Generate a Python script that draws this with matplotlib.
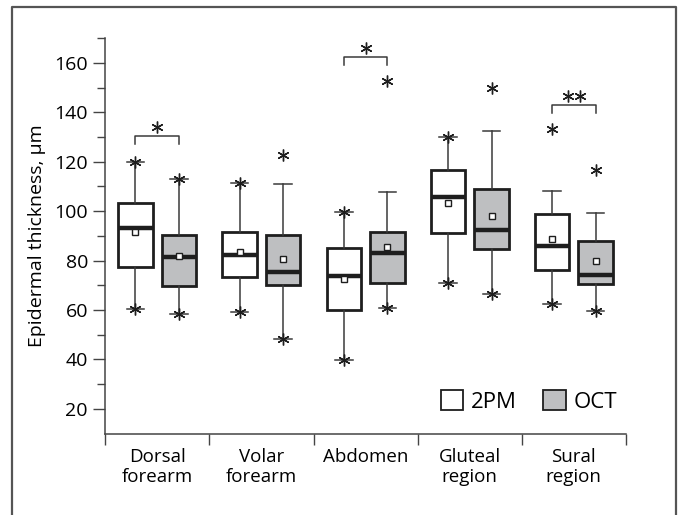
import matplotlib
matplotlib.use("Agg")
import matplotlib.pyplot as plt
from matplotlib.lines import Line2D
from matplotlib.patches import Patch

plt.rcParams.update({"font.family": ["Open Sans", "DejaVu Sans"], "font.size": 14})

GROUPS = ["Dorsal\nforearm", "Volar\nforearm", "Abdomen", "Gluteal\nregion", "Sural\nregion"]

# 2PM
PM_LO = [60.6, 59.3, 39.7, 71.1, 62.4]
PM_Q1 = [77.5, 73.4, 60.2, 91.2, 76.0]
PM_MED = [93.2, 82.4, 73.7, 105.6, 85.7]
PM_Q3 = [103.1, 91.7, 84.9, 116.5, 98.7]
PM_HI = [120.0, 111.5, 99.5, 130.0, 108.0]
PM_MEAN = [91.6, 83.6, 72.6, 103.3, 88.6]
PM_HI_STAR = [True, True, True, True, False]
PM_OUT = [[], [], [], [], [133.3]]

# OCT
OCT_LO = [58.2, 48.4, 60.8, 66.6, 59.8]
OCT_Q1 = [69.8, 70.1, 71.1, 84.6, 70.5]
OCT_MED = [81.5, 75.4, 83.2, 92.3, 74.1]
OCT_Q3 = [90.5, 90.5, 91.6, 108.8, 87.8]
OCT_HI = [113.1, 111.0, 107.6, 132.3, 99.4]
OCT_MEAN = [81.8, 80.6, 85.5, 98.2, 79.8]
OCT_HI_STAR = [True, False, False, False, False]
OCT_OUT = [[], [122.8], [152.6], [150.0], [116.6]]

# significance brackets
SIG_GROUP = [0, 2, 4]
SIG_Y = [130.5, 162.5, 143.0]
SIG_N = [1, 1, 2]

DARK = "#1e1e1e"
GRAYFILL = "#bebfc1"
OFF, WIDTH, CAPW = 0.21, 0.33, 0.17
STAR = dict(marker=(6, 2, 0), color=DARK, markersize=8.5, mew=1.0, ls="none", zorder=4)

fig = plt.figure(figsize=(6.81, 5.15), dpi=100)
ax = fig.add_axes([0.1546, 0.158, 0.7644, 0.768])


def draw(series, shift, fill):
    lo, q1, med, q3, hi, mean, histar, outs = series
    stats = []
    for i in range(len(GROUPS)):
        stats.append({"whislo": lo[i], "q1": q1[i], "med": med[i], "q3": q3[i],
                      "whishi": hi[i], "mean": mean[i], "fliers": []})
    pos = [i + 0.5 + shift for i in range(len(GROUPS))]
    ax.bxp(stats, positions=pos, widths=WIDTH, patch_artist=True, showmeans=True,
           showfliers=False, capwidths=CAPW,
           boxprops=dict(facecolor=fill, edgecolor=DARK, linewidth=2.0),
           medianprops=dict(color=DARK, linewidth=3.2, solid_capstyle="butt"),
           whiskerprops=dict(color="#3a3a3a", linewidth=1.1),
           capprops=dict(color="#3a3a3a", linewidth=1.1),
           meanprops=dict(marker="s", markerfacecolor="white", markeredgecolor=DARK,
                          markersize=5, markeredgewidth=1.0),
           zorder=3)
    for i, p in enumerate(pos):
        ax.plot([p], [lo[i]], **STAR)
        if histar[i]:
            ax.plot([p], [hi[i]], **STAR)
        if outs[i]:
            ax.plot([p] * len(outs[i]), outs[i], **STAR)


draw((PM_LO, PM_Q1, PM_MED, PM_Q3, PM_HI, PM_MEAN, PM_HI_STAR, PM_OUT), -OFF, "white")
draw((OCT_LO, OCT_Q1, OCT_MED, OCT_Q3, OCT_HI, OCT_MEAN, OCT_HI_STAR, OCT_OUT), OFF, GRAYFILL)

for g, y, n in zip(SIG_GROUP, SIG_Y, SIG_N):
    x1, x2 = g + 0.5 - OFF, g + 0.5 + OFF
    ax.plot([x1, x1, x2, x2], [y - 3.4, y, y, y - 3.4], color="#3a3a3a", lw=1.1)
    xc = g + 0.5
    xs = [xc] if n == 1 else [xc - 0.056, xc + 0.056]
    ax.plot(xs, [y + 3.4] * len(xs), **STAR)

ax.set_xlim(0, 5)
ax.set_ylim(10, 170)
ax.set_xticks(range(6))
ax.set_xticklabels([])
ax.set_xticks([i + 0.5 for i in range(5)], minor=True)
ax.set_xticklabels(GROUPS, minor=True, fontsize=13.5, linespacing=1.15)
ax.tick_params(axis="x", which="major", length=8, width=1, color="#444")
ax.tick_params(axis="x", which="minor", length=0, pad=10)
ax.set_yticks(range(20, 161, 20))
ax.set_yticks(range(30, 171, 20), minor=True)
ax.tick_params(axis="y", which="major", length=9, width=1, color="#444", labelsize=14)
ax.tick_params(axis="y", which="minor", length=6, width=1, color="#444")
ax.set_ylabel("Epidermal thickness, µm", fontsize=14, labelpad=6)
for s in ("top", "right"):
    ax.spines[s].set_visible(False)
for s in ("left", "bottom"):
    ax.spines[s].set_color("#444")
    ax.spines[s].set_linewidth(1.1)

handles = [Patch(facecolor="white", edgecolor=DARK, lw=1.3, label="2PM"),
           Patch(facecolor=GRAYFILL, edgecolor=DARK, lw=1.3, label="OCT")]
ax.legend(handles=handles, loc="lower right", bbox_to_anchor=(1.0, 0.03), ncol=2,
          frameon=False, handlelength=1.0, handleheight=1.0, handletextpad=0.35,
          columnspacing=1.2, fontsize=16, borderaxespad=0)

bx = 11.7 / 681
ty = 1 - 7.3 / 515
rx = 675.7 / 681
fig.add_artist(Line2D([bx, bx, rx, rx], [0, ty, ty, 0], color="#555555", lw=1.6))

fig.savefig("out.png", dpi=100, facecolor="white")
